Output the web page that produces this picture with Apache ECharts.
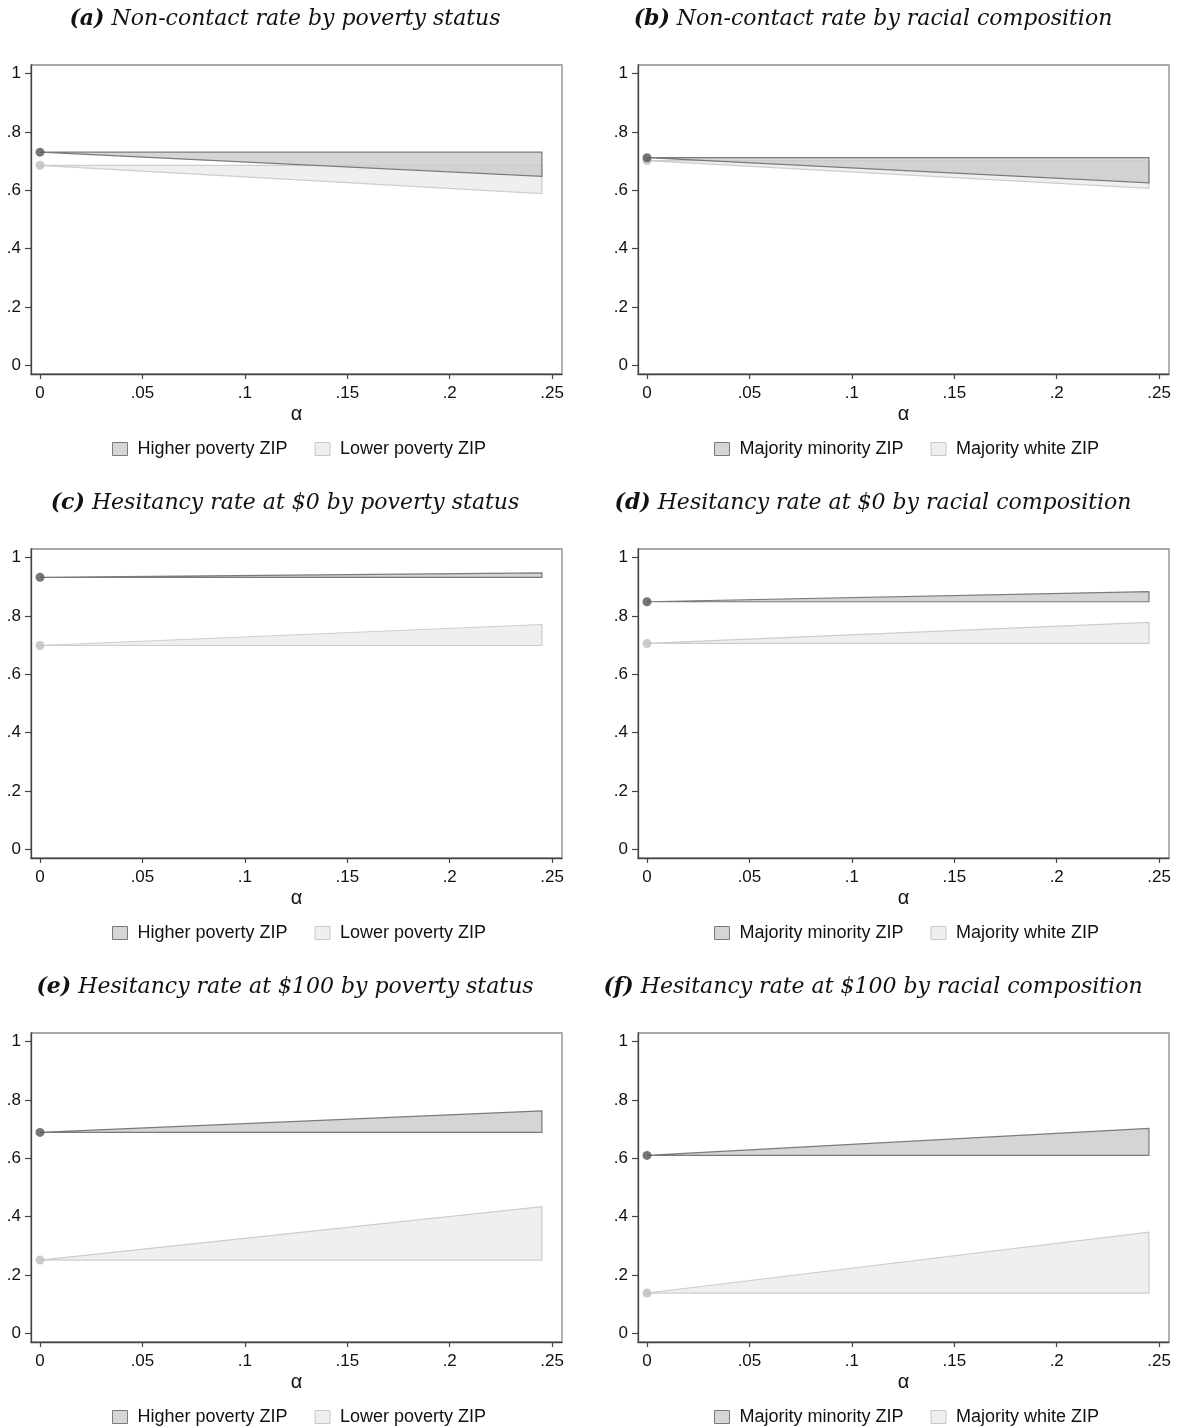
<!DOCTYPE html>
<html>
<head>
<meta charset="utf-8">
<script src="https://cdn.jsdelivr.net/npm/echarts@6/dist/echarts.min.js"></script>
<style>
  html, body { margin: 0; padding: 0; background: #fff; }
  #chart { width: 1182px; height: 1428px; }
</style>
</head>
<body>
<div id="chart"></div>
<script>
// Sensitivity grid for alpha (shared by all panels)
const alpha = [0, 0.245];

// Axis ticks
const xTicks = [0, 0.05, 0.1, 0.15, 0.2, 0.25];
const yTicks = [0, 0.2, 0.4, 0.6, 0.8, 1];

// Panel titles
const panelTags = ['(a)', '(b)', '(c)', '(d)', '(e)', '(f)'];
const panelTitles = [
  'Non-contact rate by poverty status',
  'Non-contact rate by racial composition',
  'Hesitancy rate at $0 by poverty status',
  'Hesitancy rate at $0 by racial composition',
  'Hesitancy rate at $100 by poverty status',
  'Hesitancy rate at $100 by racial composition'
];

// Legend / group names
const povertyGroups = ['Higher poverty ZIP', 'Lower poverty ZIP'];
const raceGroups = ['Majority minority ZIP', 'Majority white ZIP'];

// (a) Non-contact rate, poverty status: bounds at each alpha
const nonContactHighPovLo = [0.731, 0.648];
const nonContactHighPovHi = [0.731, 0.731];
const nonContactLowPovLo = [0.686, 0.589];
const nonContactLowPovHi = [0.686, 0.686];

// (b) Non-contact rate, racial composition
const nonContactMinorityLo = [0.712, 0.626];
const nonContactMinorityHi = [0.712, 0.712];
const nonContactWhiteLo = [0.702, 0.607];
const nonContactWhiteHi = [0.702, 0.702];

// (c) Hesitancy at $0, poverty status
const hes0HighPovLo = [0.933, 0.933];
const hes0HighPovHi = [0.933, 0.948];
const hes0LowPovLo = [0.699, 0.699];
const hes0LowPovHi = [0.699, 0.771];

// (d) Hesitancy at $0, racial composition
const hes0MinorityLo = [0.849, 0.849];
const hes0MinorityHi = [0.849, 0.884];
const hes0WhiteLo = [0.706, 0.706];
const hes0WhiteHi = [0.706, 0.778];

// (e) Hesitancy at $100, poverty status
const hes100HighPovLo = [0.689, 0.689];
const hes100HighPovHi = [0.689, 0.763];
const hes100LowPovLo = [0.251, 0.251];
const hes100LowPovHi = [0.251, 0.434];

// (f) Hesitancy at $100, racial composition
const hes100MinorityLo = [0.610, 0.610];
const hes100MinorityHi = [0.610, 0.703];
const hes100WhiteLo = [0.138, 0.138];
const hes100WhiteHi = [0.138, 0.347];

// Panel assembly (order: a..f, row by row)
const panels = [
  { groups: povertyGroups, dark: [nonContactHighPovLo, nonContactHighPovHi], light: [nonContactLowPovLo, nonContactLowPovHi] },
  { groups: raceGroups,    dark: [nonContactMinorityLo, nonContactMinorityHi], light: [nonContactWhiteLo, nonContactWhiteHi] },
  { groups: povertyGroups, dark: [hes0HighPovLo, hes0HighPovHi], light: [hes0LowPovLo, hes0LowPovHi] },
  { groups: raceGroups,    dark: [hes0MinorityLo, hes0MinorityHi], light: [hes0WhiteLo, hes0WhiteHi] },
  { groups: povertyGroups, dark: [hes100HighPovLo, hes100HighPovHi], light: [hes100LowPovLo, hes100LowPovHi] },
  { groups: raceGroups,    dark: [hes100MinorityLo, hes100MinorityHi], light: [hes100WhiteLo, hes100WhiteHi] }
];

// Layout
const COL_LEFT = [31, 638];
const ROW_TOP = [65, 549, 1033];
const PLOT_W = 531, PLOT_H = 309;
const TITLE_CX = [285, 873];
const LEGEND_LEFT = [107, 709];

const SANS = '"Liberation Sans", Arial, Helvetica, sans-serif';
const SERIF = '"DejaVu Serif", "Liberation Serif", serif';

const DARK = { fill: 'rgba(202,202,202,0.8)', stroke: '#7a7a7a', point: '#555555', legendFill: '#d5d5d5' };
const LIGHT = { fill: '#efefef', stroke: '#cdcdcd', point: '#bdbdbd', legendFill: '#efefef' };

function tickFmt(v) {
  if (Math.abs(v) < 1e-9) return '0';
  return String(+v.toFixed(2)).replace(/^0\./, '.').replace(/^-0\./, '-.');
}

// Band polygon drawn through the axis scales: upper edge forward, lower edge back
function bandSeries(gridIndex, name, lo, hi, st) {
  return {
    type: 'custom',
    name: name,
    xAxisIndex: gridIndex,
    yAxisIndex: gridIndex,
    itemStyle: { color: st.legendFill, borderColor: st.stroke, borderWidth: 1 },
    data: alpha.map((a, i) => [a, lo[i], hi[i]]),
    encode: { x: 0, y: [1, 2] },
    silent: true,
    renderItem: function (params, api) {
      if (params.dataIndex !== 0) return;
      const upper = alpha.map((a, i) => api.coord([a, hi[i]]));
      const lower = alpha.map((a, i) => api.coord([a, lo[i]])).reverse();
      return {
        type: 'polygon',
        shape: { points: upper.concat(lower) },
        style: { fill: st.fill, stroke: st.stroke, lineWidth: 1.2, lineJoin: 'miter' }
      };
    }
  };
}

function pointSeries(gridIndex, name, value, st) {
  return {
    type: 'scatter',
    name: name,
    xAxisIndex: gridIndex,
    yAxisIndex: gridIndex,
    symbol: 'circle',
    symbolSize: 9,
    itemStyle: { color: st.point },
    z: 5,
    silent: true,
    data: [[alpha[0], value]]
  };
}

const grids = [], xAxes = [], yAxes = [], series = [], legends = [], graphics = [];

panels.forEach((p, k) => {
  const col = k % 2, row = Math.floor(k / 2);
  const left = COL_LEFT[col], top = ROW_TOP[row];

  grids.push({
    left: left, top: top, width: PLOT_W, height: PLOT_H,
    show: true, borderColor: '#8a8a8a', borderWidth: 1.3, backgroundColor: '#fff'
  });

  xAxes.push({
    type: 'value', gridIndex: k, min: -0.0044, max: 0.2548,
    name: 'α', nameLocation: 'middle', nameGap: 30,
    nameTextStyle: { fontFamily: SANS, fontSize: 20, color: '#111' },
    axisLine: { show: true, onZero: false, lineStyle: { color: '#444', width: 1.3 } },
    axisTick: { show: true, length: 5, customValues: xTicks, lineStyle: { color: '#444', width: 1.2 } },
    axisLabel: { customValues: xTicks, formatter: tickFmt, margin: 11, fontFamily: SANS, fontSize: 17, color: '#111' },
    splitLine: { show: false }
  });

  yAxes.push({
    type: 'value', gridIndex: k, min: -0.03, max: 1.03,
    axisLine: { show: true, onZero: false, lineStyle: { color: '#444', width: 1.3 } },
    axisTick: { show: true, length: 6, customValues: yTicks, lineStyle: { color: '#444', width: 1.2 } },
    axisLabel: { customValues: yTicks, formatter: tickFmt, margin: 10, fontFamily: SANS, fontSize: 17, color: '#111' },
    splitLine: { show: false }
  });

  // light band first so the darker band sits over it
  series.push(bandSeries(k, p.groups[1], p.light[0], p.light[1], LIGHT));
  series.push(bandSeries(k, p.groups[0], p.dark[0], p.dark[1], DARK));
  series.push(pointSeries(k, p.groups[1] + ' at 0', p.light[0][0], LIGHT));
  series.push(pointSeries(k, p.groups[0] + ' at 0', p.dark[0][0], DARK));

  legends.push({
    left: LEGEND_LEFT[col], top: top + PLOT_H + 61,
    orient: 'horizontal', selectedMode: false,
    itemWidth: 15, itemHeight: 13, itemGap: 27,
    textStyle: { fontFamily: SANS, fontSize: 18, color: '#111', padding: [0, 0, 0, 5] },
    data: [
      { name: p.groups[0], icon: 'rect', itemStyle: { color: DARK.legendFill, borderColor: '#7a7a7a', borderWidth: 1 } },
      { name: p.groups[1], icon: 'rect', itemStyle: { color: LIGHT.legendFill, borderColor: '#c8c8c8', borderWidth: 1 } }
    ]
  });

  graphics.push({
    type: 'text',
    x: TITLE_CX[col], y: top - 46,
    style: {
      text: '{b|' + panelTags[k] + '} ' + panelTitles[k],
      align: 'center', verticalAlign: 'middle',
      fontFamily: SERIF, fontStyle: 'italic', fontSize: 22, fill: '#111',
      rich: { b: { fontFamily: SERIF, fontStyle: 'italic', fontWeight: 'bold', fontSize: 22, fill: '#111' } }
    }
  });
});

const chart = echarts.init(document.getElementById('chart'), null, { renderer: 'canvas' });
chart.setOption({
  animation: false,
  backgroundColor: '#fff',
  grid: grids,
  xAxis: xAxes,
  yAxis: yAxes,
  legend: legends,
  series: series,
  graphic: graphics
});
</script>
</body>
</html>
